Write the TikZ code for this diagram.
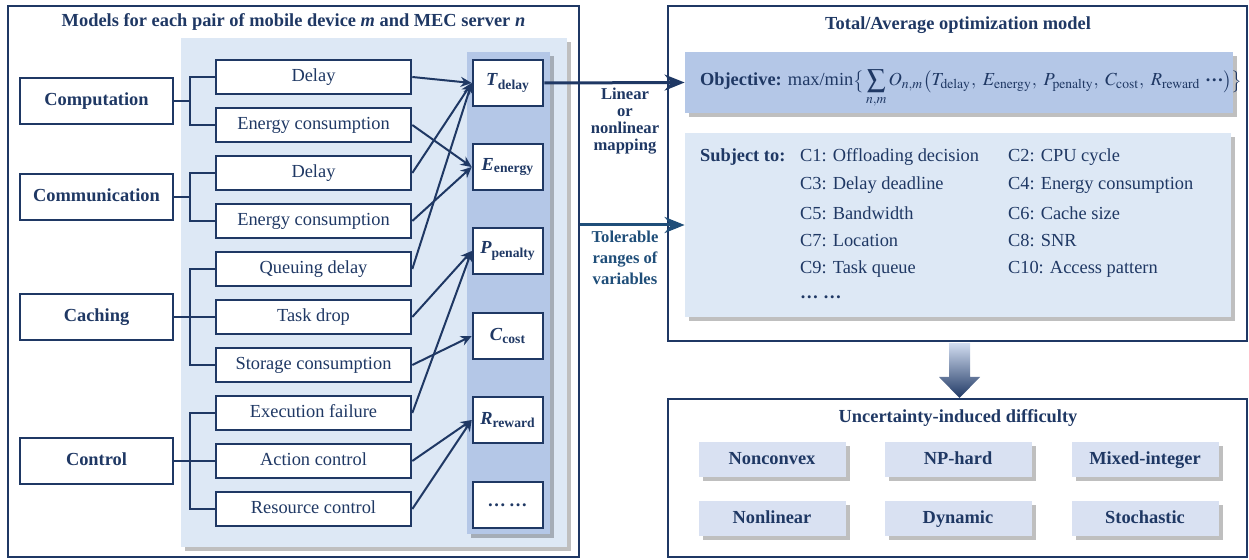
\documentclass[tikz,border=0pt]{standalone}
\usepackage{mathptmx}
\usepackage{fontspec}
\setmainfont{Liberation Serif}
\usetikzlibrary{arrows.meta,shadows}

\definecolor{navy}{RGB}{31,56,100}
\definecolor{steelnavy}{RGB}{31,78,121}
\definecolor{panelblue}{RGB}{221,232,245}
\definecolor{colblue}{RGB}{180,199,231}
\definecolor{tagblue}{RGB}{217,225,242}
\definecolor{midblue}{RGB}{68,114,196}

\newcommand{\symb}[2]{\textbf{\textit{#1}}\textsubscript{\textbf{#2}}}

\tikzset{
  every node/.style={text=navy, font=\fontsize{9.2}{11}\selectfont},
  softshadow/.style={drop shadow={shadow xshift=2pt, shadow yshift=-2pt, fill=black, opacity=0.25}},
  frame/.style={draw=navy, line width=0.9pt},
  title/.style={font=\fontsize{9.2}{11}\selectfont\bfseries},
  catbox/.style={draw=navy, line width=1.3pt, fill=white, minimum width=76.5pt, minimum height=23pt,
    text height=6.6pt, text depth=2pt, font=\fontsize{9.2}{11}\selectfont\bfseries},
  itembox/.style={draw=navy, line width=1.3pt, fill=white, minimum width=97.5pt, minimum height=17pt,
    text height=6.6pt, text depth=2pt},
  symbox/.style={draw=navy, line width=1.3pt, fill=white, minimum width=35pt, minimum height=23pt},
  tag/.style={fill=tagblue, softshadow, minimum width=73.5pt, minimum height=17.5pt,
    text height=6.6pt, text depth=2pt, font=\fontsize{9.2}{11}\selectfont\bfseries},
  wire/.style={navy, line width=1pt},
  link/.style={navy, line width=1pt, -{Stealth[length=5.5pt,width=5pt]}},
  bigleg/.style={line width=1.5pt, -{Stealth[length=10pt,width=8pt]}},
  maplabel/.style={align=center, font=\fontsize{8.3}{8.5}\selectfont\bfseries}
}

\begin{document}
\begin{tikzpicture}[x=0.5pt,y=-0.5pt]
\useasboundingbox (0,0) rectangle (1249,560);

% models of each device/server pair
\node[frame, minimum width=285.5pt, minimum height=275.5pt] (models) at (293.5,281.5) {};
\node[title] (modtitle) at (293.5,22) {Models for each pair of mobile device \textit{m} and MEC server \textit{n}};
\fill[panelblue, softshadow] (181,38) rectangle (567,547);
\fill[colblue, softshadow] (467,52) rectangle (550,534);

\node[catbox] (comp) at (96.5,101) {Computation};
\node[catbox] (comm) at (96.5,197) {Communication};
\node[catbox] (cach) at (96.5,317) {Caching};
\node[catbox] (ctrl) at (96.5,461) {Control};

\node[itembox] (cdel) at (313.5,77) {Delay};
\node[itembox] (cene) at (313.5,125) {Energy consumption};
\node[itembox] (mdel) at (313.5,173) {Delay};
\node[itembox] (mene) at (313.5,221) {Energy consumption};
\node[itembox] (qdel) at (313.5,269) {Queuing delay};
\node[itembox] (tdrop) at (313.5,317) {Task drop};
\node[itembox] (stor) at (313.5,365) {Storage consumption};
\node[itembox] (exef) at (313.5,413) {Execution failure};
\node[itembox] (actc) at (313.5,461) {Action control};
\node[itembox] (resc) at (313.5,509) {Resource control};

\node[symbox] (td) at (508,83) {\symb{T}{delay}};
\node[symbox] (ee) at (508,167) {\symb{E}{energy}};
\node[symbox] (pp) at (508,251) {\symb{P}{penalty}};
\node[symbox] (cc) at (508,336) {\symb{C}{cost}};
\node[symbox] (rr) at (508,420) {\symb{R}{reward}};
\node[symbox] (more) at (508,505) {\textbf{\textit{\ldots\,\ldots}}};

\draw[wire] (comp.east) -- ++(16,0) |- (cdel.west) (comp.east) ++(16,0) |- (cene.west);
\draw[wire] (comm.east) -- ++(16,0) |- (mdel.west) (comm.east) ++(16,0) |- (mene.west);
\draw[wire] (cach.east) -- ++(16,0) |- (qdel.west) (cach.east) ++(16,0) |- (tdrop.west)
  (cach.east) ++(16,0) |- (stor.west);
\draw[wire] (ctrl.east) -- ++(16,0) |- (exef.west) (ctrl.east) ++(16,0) |- (actc.west)
  (ctrl.east) ++(16,0) |- (resc.west);

\draw[link] (cdel.east) -- (td.west);
\draw[link] (cene.east) -- (ee.west);
\draw[link] (mdel.east) -- (td.west);
\draw[link] (mene.east) -- (ee.west);
\draw[link] (qdel.east) -- (td.west);
\draw[link] (tdrop.east) -- (pp.west);
\draw[link] (stor.east) -- (cc.west);
\draw[link] (exef.east) -- (pp.west);
\draw[link] (actc.east) -- (rr.west);
\draw[link] (resc.east) -- (rr.west);

% optimization model
\node[frame, minimum width=289.5pt, minimum height=167.5pt] (opt) at (957.5,173.5) {};
\node[title] (opttitle) at (958,25) {Total/Average optimization model};
\node[fill=colblue, softshadow, minimum width=274pt, minimum height=30.5pt] (obj) at (959,82.5) {};
\node[anchor=base west] (objtext) at (693,86) {\textbf{Objective:} max/min$\big\{\displaystyle\sum_{n,m} O_{n,m}\big(T_{\mathrm{delay}},\ E_{\mathrm{energy}},\ P_{\mathrm{penalty}},\ C_{\mathrm{cost}},\ R_{\mathrm{reward}}\ \mbox{\textbf{\raisebox{0.22em}{\ldots}}}\big)\big\}$};
\node[fill=panelblue, softshadow, minimum width=273pt, minimum height=92pt] (sub) at (958,225) {};
\node[anchor=west, font=\fontsize{9.2}{11}\selectfont\bfseries] (subj) at (693,157) {Subject to:};
\node[anchor=west] (c1) at (793,157) {C1: Offloading decision};
\node[anchor=west] (c3) at (793,185) {C3: Delay deadline};
\node[anchor=west] (c5) at (793,213) {C5: Bandwidth};
\node[anchor=west] (c7) at (793,241) {C7: Location};
\node[anchor=west] (c9) at (793,269) {C9: Task queue};
\node[anchor=west] (cdots) at (793,297) {\textbf{\ldots\ \ldots}};
\node[anchor=west] (c2) at (1001,157) {C2: CPU cycle};
\node[anchor=west] (c4) at (1001,185) {C4: Energy consumption};
\node[anchor=west] (c6) at (1001,213) {C6: Cache size};
\node[anchor=west] (c8) at (1001,241) {C8: SNR};
\node[anchor=west] (c10) at (1001,269) {C10: Access pattern};

\draw[bigleg, navy] (td.east) -- (obj.west);
\draw[bigleg, steelnavy] (models.east |- sub.west) -- (sub.west);
\node[maplabel] (linlab) at (625,121) {Linear\\or\\nonlinear\\mapping};
\node[maplabel, text=steelnavy, font=\fontsize{8.3}{10.5}\selectfont\bfseries] (tollab) at (625,258) {Tolerable\\ranges of\\variables};

% difficulty
\shade[top color=colblue!60, middle color=midblue, bottom color=navy]
  (949,343) -- (970,343) -- (970,377) -- (980,377) -- (959.5,398) -- (939,377) -- (949,377) -- cycle;
\node[frame, minimum width=289.5pt, minimum height=79pt] (diff) at (957.5,478) {};
\node[title] (difftitle) at (958,418) {Uncertainty-induced difficulty};
\node[tag] (ncvx) at (772,460) {Nonconvex};
\node[tag] (nph) at (958,460) {NP-hard};
\node[tag] (mint) at (1145,460) {Mixed-integer};
\node[tag] (nlin) at (772,519) {Nonlinear};
\node[tag] (dyn) at (958,519) {Dynamic};
\node[tag] (stoc) at (1145,519) {Stochastic};
\end{tikzpicture}
\end{document}
